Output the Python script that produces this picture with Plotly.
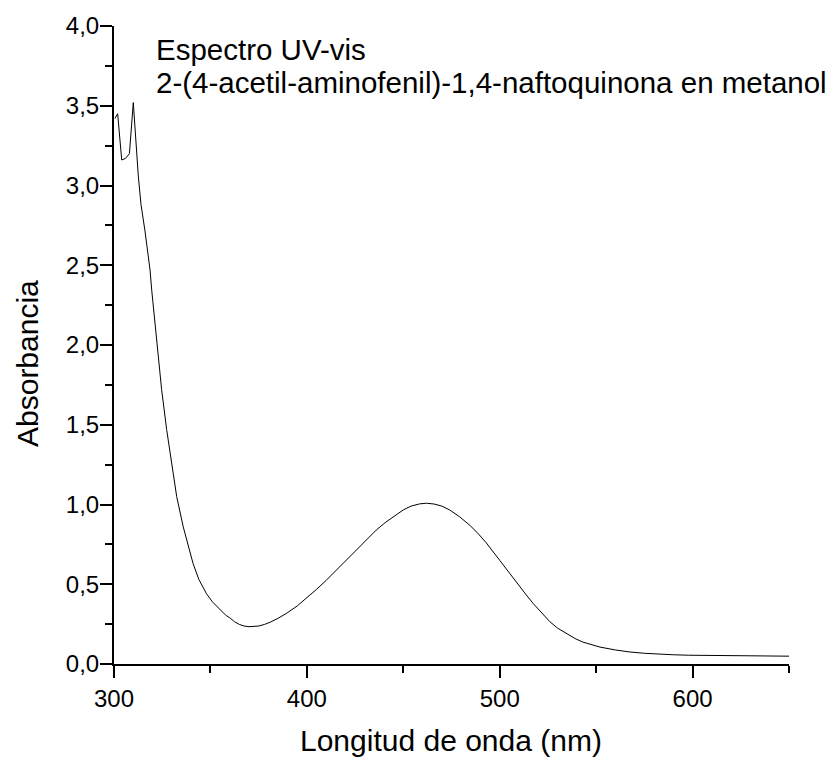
import plotly.graph_objects as go

wavelength = [300.5, 301.9, 304, 306, 308, 310, 312.6, 314, 316, 317, 318.7, 319.5, 322,
              324.7, 327.3, 329.9, 332.5, 335.9, 338, 341, 344, 348, 351, 355, 358, 360,
              362.5, 365, 367.5, 370, 372.5, 375, 378, 381, 385, 389.5, 395, 400, 405, 410,
              415, 420, 425, 431, 436, 441, 446, 450, 454, 458.5, 462, 466, 470, 474, 479,
              484.5, 489, 493, 500, 504, 508.7, 513, 517.3, 522, 526, 530, 534.5, 539, 543,
              548, 552, 560, 567, 575, 583, 590, 598, 614, 630, 650]
absorbance = [3.42, 3.45, 3.16, 3.17, 3.20, 3.52, 3.06, 2.88, 2.72, 2.62, 2.47, 2.35, 2.03,
              1.72, 1.47, 1.26, 1.05, 0.86, 0.76, 0.63, 0.53, 0.44, 0.39, 0.34, 0.305, 0.29,
              0.265, 0.248, 0.238, 0.234, 0.234, 0.238, 0.248, 0.262, 0.286, 0.318, 0.364, 0.415,
              0.468, 0.524, 0.585, 0.648, 0.71, 0.78, 0.84, 0.89, 0.935, 0.966, 0.99, 1.004,
              1.008, 1.003, 0.99, 0.966, 0.925, 0.87, 0.815, 0.76, 0.65, 0.585, 0.51, 0.445,
              0.38, 0.318, 0.265, 0.225, 0.19, 0.16, 0.138, 0.12, 0.106, 0.088, 0.076, 0.067,
              0.061, 0.058, 0.055, 0.053, 0.051, 0.049]

title_lines = ["Espectro UV-vis", "2-(4-acetil-aminofenil)-1,4-naftoquinona en metanol"]
x_title = "Longitud de onda (nm)"
y_title = "Absorbancia"

FONT = "Liberation Sans, Arial, sans-serif"

# page body has an 8px margin; build the figure in target-pixel coordinates shifted by it
OFF = 8
W, H = 840 - OFF, 762 - OFF
L, R, T, B = 114 - OFF, 51, 26 - OFF, 98
pw, ph = W - L - R, H - T - B

def px_x(px):
    return (px - OFF - L) / pw

def px_y(py):
    return (H - B - (py - OFF)) / ph

fig = go.Figure()
fig.add_trace(go.Scatter(x=wavelength, y=absorbance, mode="lines",
                         line=dict(color="black", width=1), showlegend=False))

axis_common = dict(showgrid=False, zeroline=False, showline=True, linecolor="black",
                   linewidth=2, ticks="outside", ticklen=12, tickwidth=2, tickcolor="black",
                   tickfont=dict(family=FONT, size=24, color="black"), mirror=False)

fig.update_xaxes(range=[300, 650], dtick=100, tick0=300, tickformat="d",
                 minor=dict(dtick=50, ticklen=7, tickwidth=2, tickcolor="black", ticks="outside"),
                 **axis_common)
fig.update_yaxes(range=[0, 4], dtick=0.5, tick0=0, tickformat=".1f", ticklabelstandoff=-4,
                 minor=dict(dtick=0.25, ticklen=7, tickwidth=2, tickcolor="black", ticks="outside"),
                 **axis_common)

annotations = [
    dict(text=title_lines[0], x=px_x(154), y=px_y(49), xanchor="left", yanchor="middle", size=29.5),
    dict(text=title_lines[1], x=px_x(154), y=px_y(83), xanchor="left", yanchor="middle", size=29.5),
    dict(text=x_title, x=px_x(451), y=px_y(741), xanchor="center", yanchor="middle", size=30),
    dict(text=y_title, x=px_x(27), y=px_y(364), xanchor="center", yanchor="middle", textangle=-90, size=30),
]
for a in annotations:
    size = a.pop("size")
    a.update(xref="paper", yref="paper", showarrow=False,
             font=dict(family=FONT, size=size, color="black"))

fig.update_layout(width=W, height=H, margin=dict(l=L, r=R, t=T, b=B, autoexpand=False),
                  plot_bgcolor="white", paper_bgcolor="white", separators=",.",
                  annotations=annotations)

fig.write_html("out.html")
